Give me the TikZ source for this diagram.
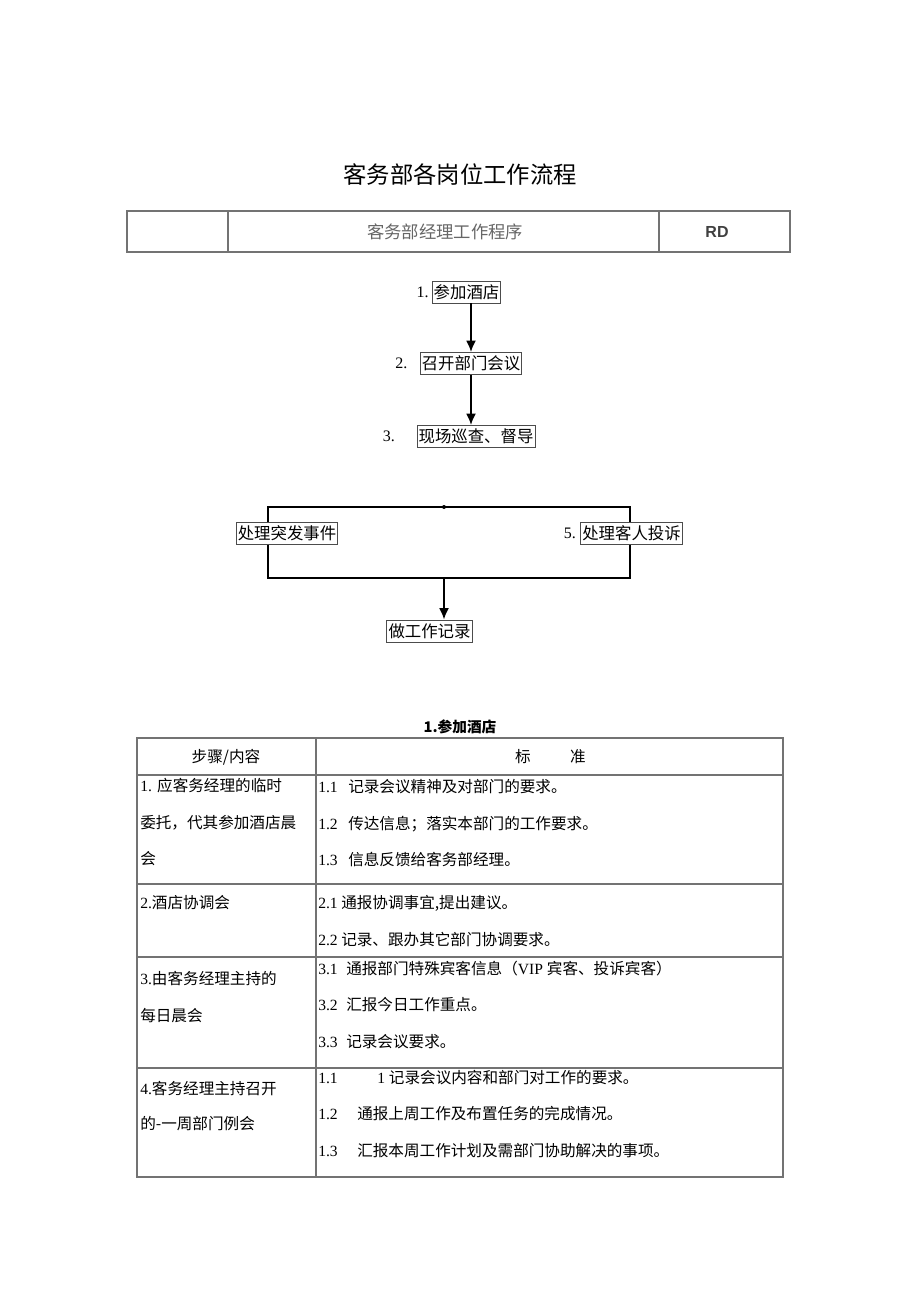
\documentclass[tikz,border=0pt]{standalone}
\usepackage{fontspec}
\setmainfont{Liberation Serif}
\setsansfont{Liberation Sans}
\newfontfamily\cjk{Noto Sans CJK SC}
\usetikzlibrary{arrows.meta,positioning}
\tikzset{
  flowbox/.style={draw=black!70,line width=0.7pt,inner sep=1.2pt,minimum height=16.5pt,font=\fontsize{12.3}{14}\cjk},
  numlabel/.style={inner sep=0pt,font=\fontsize{12}{14}\selectfont},
  flowline/.style={line width=1.1pt},
  flowarrow/.style={-{Latex[length=8.5pt,width=7.5pt]},line width=1.4pt},
  grid/.style={draw=black!55,line width=0.9pt},
  cell/.style={anchor=west,inner sep=0pt,font=\fontsize{11.7}{14}\selectfont},
}
\begin{document}
\begin{tikzpicture}[x=0.75pt,y=-0.75pt]
\useasboundingbox (0,0) rectangle (920,1301);
% title and header
\node[font=\fontsize{17.5}{20}\cjk] (title) at (460,175) {客务部各岗位工作流程};
\draw[grid] (127,211) rectangle (790,252);
\draw[grid] (228,211) -- (228,252);
\draw[grid] (659,211) -- (659,252);
\node[font=\fontsize{13}{15}\cjk,text=black!60] (head) at (445,232) {客务部经理工作程序};
\node[font=\fontsize{12}{14}\sffamily\bfseries,text=black!75] (rd) at (717,232) {RD};
% flow
\node[flowbox] (b1) at (466.5,292) {参加酒店};
\node[numlabel,left=2pt of b1] (n1) {1.};
\node[flowbox] (b2) at (471,363.5) {召开部门会议};
\node[numlabel,left=9pt of b2] (n2) {2.};
\node[flowbox] (b3) at (476,436.5) {现场巡查、督导};
\node[numlabel,left=16pt of b3] (n3) {3.};
\draw[flowarrow] (b1.south -| b2.north) -- (b2.north);
\draw[flowarrow] (b2.south) -- (b2.south |- b3.north);
\node[flowbox] (ev) at (287,533.5) {处理突发事件};
\node[flowbox] (cp) at (631.5,533.5) {处理客人投诉};
\node[numlabel,left=3pt of cp] (n5) {5.};
\node[flowbox] (rec) at (429.5,631) {做工作记录};
\coordinate (lt) at (268,507);
\coordinate (rt) at (630,507);
\coordinate (lb) at (268,578);
\coordinate (rb) at (630,578);
\coordinate (mt) at (444,507);
\coordinate (mb) at (444,578);
\draw[flowline] (ev.north -| lt) -- (lt) -- (rt) -- (rt |- cp.north);
\draw[flowline] (ev.south -| lb) -- (lb) -- (rb) -- (rb |- cp.south);
\fill (mt) circle (1.5pt);
\draw[flowarrow] (mb) -- (mb |- rec.north);
% table
\node[font=\fontsize{11}{13}\cjk\bfseries] (ttl) at (460,727) {1.参加酒店};
\draw[grid] (137,738) rectangle (783,1177);
\draw[grid] (316,738) -- (316,1177);
\draw[grid] (137,775) -- (783,775);
\draw[grid] (137,884) -- (783,884);
\draw[grid] (137,957) -- (783,957);
\draw[grid] (137,1068) -- (783,1068);
\node[font=\fontsize{11.7}{14}\cjk] (h1) at (226,757) {步骤/内容};
\node[font=\fontsize{11.7}{14}\cjk] (h2) at (523,757) {标};
\node[font=\fontsize{11.7}{14}\cjk] (h3) at (578,757) {准};
% left column
\node[cell] (l1a) at (140,786) {1. \cjk 应客务经理的临时};
\node[cell] (l1b) at (140,823) {\cjk 委托，代其参加酒店晨};
\node[cell] (l1c) at (140,859) {\cjk 会};
\node[cell] (l2a) at (140,903) {2.\cjk 酒店协调会};
\node[cell] (l3a) at (140,978) {3.\cjk 由客务经理主持的};
\node[cell] (l3b) at (140,1016) {\cjk 每日晨会};
\node[cell] (l4a) at (140,1089) {4.\cjk 客务经理主持召开};
\node[cell] (l4b) at (140,1124) {\cjk 的-一周部门例会};
% right column
\node[cell] (r1a) at (318,787) {1.1};
\node[cell] (t1a) at (348,787) {\cjk 记录会议精神及对部门的要求。};
\node[cell] (r1b) at (318,824) {1.2};
\node[cell] (t1b) at (348,824) {\cjk 传达信息；落实本部门的工作要求。};
\node[cell] (r1c) at (318,860) {1.3};
\node[cell] (t1c) at (348,860) {\cjk 信息反馈给客务部经理。};
\node[cell] (r2a) at (318,903) {2.1};
\node[cell] (t2a) at (341,903) {\cjk 通报协调事宜,提出建议。};
\node[cell] (r2b) at (318,940) {2.2};
\node[cell] (t2b) at (341,940) {\cjk 记录、跟办其它部门协调要求。};
\node[cell] (r3a) at (318,969) {3.1};
\node[cell] (t3a) at (346,969) {{\cjk 通报部门特殊宾客信息（}VIP {\cjk 宾客、投诉宾客）}};
\node[cell] (r3b) at (318,1005) {3.2};
\node[cell] (t3b) at (346,1005) {\cjk 汇报今日工作重点。};
\node[cell] (r3c) at (318,1042) {3.3};
\node[cell] (t3c) at (346,1042) {\cjk 记录会议要求。};
\node[cell] (r4a) at (318,1078) {1.1};
\node[cell] (t4a) at (377,1078) {1 \cjk 记录会议内容和部门对工作的要求。};
\node[cell] (r4b) at (318,1114) {1.2};
\node[cell] (t4b) at (357,1114) {\cjk 通报上周工作及布置任务的完成情况。};
\node[cell] (r4c) at (318,1151) {1.3};
\node[cell] (t4c) at (357,1151) {\cjk 汇报本周工作计划及需部门协助解决的事项。};
\end{tikzpicture}
\end{document}
